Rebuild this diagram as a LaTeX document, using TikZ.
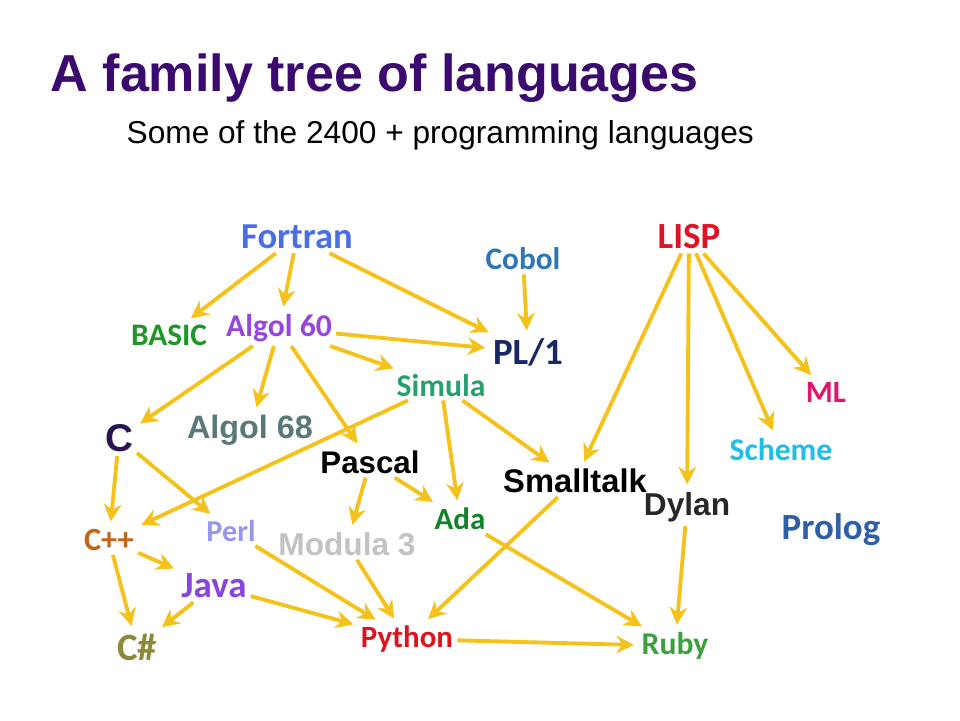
\documentclass[tikz,border=0pt]{standalone}
\usepackage{fontspec}
\setmainfont{Liberation Sans}
\newfontfamily\calfont{Carlito}
\usetikzlibrary{arrows.meta}
\definecolor{arr}{HTML}{F5C21B}
\tikzset{
 cb/.style={font=\calfont\bfseries\fontsize{#1}{#1}\selectfont, inner sep=1pt},
 ab/.style={font=\bfseries\fontsize{#1}{#1}\selectfont, inner sep=1pt},
 ar/.style={draw=arr, line width=1.1pt, -{Stealth[length=5pt,width=5pt]}, shorten >=1pt}
}
\begin{document}
\begin{tikzpicture}[x=0.01cm,y=-0.01cm]
\useasboundingbox (0,0) rectangle (960,720);
\node[ab=14.8, anchor=west, inner sep=0] (title) at (50,78) {\color[HTML]{3B0A6E}A family tree of languages};
\node[font=\fontsize{9}{9}\selectfont, anchor=west, inner sep=0] (sub) at (126,135) {Some of the 2400 + programming languages};
\node[cb=10.4, text={rgb,255:red,74;green,111;blue,227}] (fortran) at (297,237) {Fortran};
\node[cb=8.9, text={rgb,255:red,46;green,117;blue,182}] (cobol) at (523,259) {Cobol};
\node[cb=10.5, text={rgb,255:red,220;green,20;blue,40}] (lisp) at (689,237) {LISP};
\node[cb=8.9, text={rgb,255:red,30;green,150;blue,40}] (basic) at (169,335) {BASIC};
\node[cb=9, text={rgb,255:red,150;green,70;blue,220}] (algol60) at (279,328) {Algol 60};
\node[cb=10.5, text={rgb,255:red,25;green,40;blue,100}] (pl1) at (528,352) {PL/1};
\node[cb=9, text={rgb,255:red,40;green,160;blue,110}] (simula) at (441,385) {Simula};
\node[cb=8.8, text={rgb,255:red,225;green,20;blue,110}] (ml) at (826,392) {ML};
\node[ab=11, text={rgb,255:red,40;green,20;blue,80}] (c) at (119,438) {C};
\node[ab=9.2, text={rgb,255:red,90;green,120;blue,120}] (algol68) at (250,430) {Algol 68};
\node[ab=8.9, text=black] (pascal) at (370,462) {Pascal};
\node[cb=9, text={rgb,255:red,30;green,190;blue,230}] (scheme) at (781,449) {Scheme};
\node[ab=9.3, text=black] (smalltalk) at (575,481) {Smalltalk};
\node[ab=9, text={rgb,255:red,40;green,40;blue,40}] (dylan) at (687,507) {Dylan};
\node[cb=10.5, text={rgb,255:red,47;green,95;blue,168}] (prolog) at (831,530) {Prolog};
\node[cb=8.8, text={rgb,255:red,20;green,130;blue,40}] (ada) at (460,519) {Ada};
\node[cb=9.2, text={rgb,255:red,192;green,101;blue,26}] (cpp) at (109,540) {C++};
\node[cb=8.6, text={rgb,255:red,150;green,150;blue,235}] (perl) at (231,531) {Perl};
\node[ab=9, text={rgb,255:red,195;green,195;blue,195}] (modula) at (347,544) {Modula 3};
\node[cb=10.5, text={rgb,255:red,136;green,68;blue,221}] (java) at (214,586) {Java};
\node[cb=11, text={rgb,255:red,138;green,138;blue,58}] (cs) at (137,647) {C\#};
\node[cb=8.8, text={rgb,255:red,220;green,20;blue,30}] (python) at (407,639) {Python};
\node[cb=9, text={rgb,255:red,60;green,160;blue,60}] (ruby) at (675,646) {Ruby};
\draw[ar] (fortran) -- (basic);
\draw[ar] (fortran) -- (algol60);
\draw[ar] (fortran) -- (pl1);
\draw[ar] (cobol) -- (pl1);
\draw[ar] (algol60) -- (pl1);
\draw[ar] (algol60) -- (c);
\draw[ar] (algol60) -- (algol68);
\draw[ar] (algol60) -- (simula);
\draw[ar] (algol60) -- (pascal);
\draw[ar] (simula) -- (cpp);
\draw[ar] (simula) -- (ada);
\draw[ar] (simula) -- (smalltalk);
\draw[ar] (lisp) -- (smalltalk);
\draw[ar] (lisp) -- (dylan);
\draw[ar] (lisp) -- (scheme);
\draw[ar] (lisp) -- (ml);
\draw[ar] (c) -- (cpp);
\draw[ar] (c) -- (perl);
\draw[ar] (pascal) -- (modula);
\draw[ar] (pascal) -- (ada);
\draw[ar] (ada) -- (ruby);
\draw[ar] (smalltalk) -- (python);
\draw[ar] (dylan) -- (ruby);
\draw[ar] (cpp) -- (java);
\draw[ar] (cpp) -- (cs);
\draw[ar] (java) -- (cs);
\draw[ar] (perl) -- (python);
\draw[ar] (modula) -- (python);
\draw[ar] (java) -- (python);
\draw[ar] (python) -- (ruby);
\end{tikzpicture}
\end{document}
